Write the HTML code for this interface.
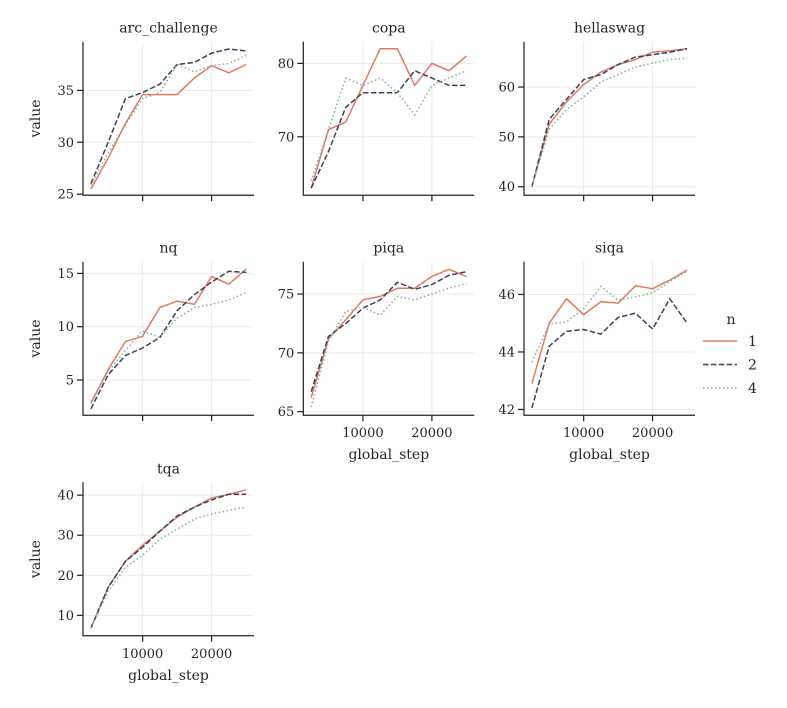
<!DOCTYPE html>
<html><head><meta charset="utf-8"><style>
body{margin:0;background:#fff}
svg text{font-family:"DejaVu Serif","Liberation Serif",serif;fill:#262626}
</style></head><body>
<svg id="c" width="787" height="703" viewBox="0 0 787 703" xmlns="http://www.w3.org/2000/svg"></svg>
<script>
const steps=[2500,5000,7500,10000,12500,15000,17500,20000,22500,25000];
const seriesNames=["1","2","4"];
const arcN1=[25.5,28.5,31.8,34.6,34.6,34.6,36.2,37.4,36.7,37.5];
const arcN2=[26,30,34.2,34.8,35.6,37.5,37.7,38.6,39.0,38.8];
const arcN4=[25.9,29,31.7,34.2,34.8,37.5,36.8,37.4,37.6,38.4];
const copaN1=[63,71,72,77,82,82,77,80,79,81];
const copaN2=[63,68,74,76,76,76,79,78,77,77];
const copaN4=[64,71,78,77,78,76,73,77,78,79];
const hellaN1=[40,52.5,57,60.5,63,64.5,65.5,67,67.3,67.7];
const hellaN2=[40,53.5,57.5,61.5,62.5,64.5,66,66.5,67,67.7];
const hellaN4=[40,51.5,55.5,58,61,62.5,64,64.8,65.5,65.8];
const nqN1=[2.8,6,8.6,9.1,11.8,12.4,12.1,14.7,14.0,15.4];
const nqN2=[2.3,5.5,7.3,8.0,9.0,11.5,13.0,14.2,15.2,15.1];
const nqN4=[3.0,5.8,7.8,9.6,9.0,10.8,11.8,12.1,12.5,13.2];
const piqaN1=[66.2,71.2,72.8,74.5,74.8,75.5,75.5,76.5,77.1,76.5];
const piqaN2=[66.7,71.4,72.5,73.8,74.5,76.0,75.4,75.8,76.6,76.9];
const piqaN4=[65.4,71.0,73.5,73.9,73.2,74.8,74.5,75.0,75.5,75.9];
const siqaN1=[42.9,45.0,45.85,45.3,45.75,45.7,46.3,46.2,46.5,46.85];
const siqaN2=[42.05,44.2,44.72,44.78,44.62,45.2,45.35,44.8,45.85,45.0];
const siqaN4=[43.65,44.97,45.05,45.5,46.28,45.8,45.92,46.05,46.45,46.8];
const tqaN1=[6.8,17,23.5,27.5,31,34.5,37,39.3,40.2,41.3];
const tqaN2=[6.8,17,23.5,27,31,34.8,37,38.8,40.2,40.2];
const tqaN4=[6.8,16,22,25,29,31.5,34,35.3,36.2,37];
const xTicks=[10000,20000];
const xTickLabels=["10000","20000"];
const arcTicks=[25,30,35], copaTicks=[70,80], hellaTicks=[40,50,60], nqTicks=[5,10,15], piqaTicks=[65,70,75], siqaTicks=[42,44,46], tqaTicks=[10,20,30,40];

const panels=[
 {name:"arc_challenge",col:0,row:0,y:[24.9,39.7],ticks:arcTicks,s:[arcN1,arcN2,arcN4],xl:false,yl:true},
 {name:"copa",col:1,row:0,y:[62.05,82.95],ticks:copaTicks,s:[copaN1,copaN2,copaN4],xl:false,yl:false},
 {name:"hellaswag",col:2,row:0,y:[38.3,69.1],ticks:hellaTicks,s:[hellaN1,hellaN2,hellaN4],xl:false,yl:false},
 {name:"nq",col:0,row:1,y:[1.7,16.1],ticks:nqTicks,s:[nqN1,nqN2,nqN4],xl:false,yl:true},
 {name:"piqa",col:1,row:1,y:[64.7,77.75],ticks:piqaTicks,s:[piqaN1,piqaN2,piqaN4],xl:true,yl:false},
 {name:"siqa",col:2,row:1,y:[41.8,47.14],ticks:siqaTicks,s:[siqaN1,siqaN2,siqaN4],xl:true,yl:false},
 {name:"tqa",col:0,row:2,y:[4.9,43.2],ticks:tqaTicks,s:[tqaN1,tqaN2,tqaN4],xl:true,yl:true}
];
const colors=["#e07a5f","#3d405b","#81b29a"];
const dashes=["","5.5,2.4","1.5,2.5"];
const colX=[83,303.3,524], W=171, rowY=[41.7,261.7,482.3], H=153.5;
const X0=1350,X1=26150;
const svg=document.getElementById('c');
const NS="http://www.w3.org/2000/svg";
function mk(t,a,p){const e=document.createElementNS(NS,t);for(const k in a)e.setAttribute(k,a[k]);(p||svg).appendChild(e);return e;}
panels.forEach(p=>{
 const l=colX[p.col],t=rowY[p.row];
 const g=mk('g',{});
 
 
 const xs=v=>l+(v-X0)/(X1-X0)*W;
 const ys=v=>t+H-(v-p.y[0])/(p.y[1]-p.y[0])*H;
 xTicks.forEach((v,i)=>{
  const gl=mk('line',{x1:xs(v),x2:xs(v),y1:t,y2:t+H,stroke:'#ebebeb','stroke-width':1},g);
  
 });
 p.ticks.forEach(v=>{
  const gl=mk('line',{x1:l,x2:l+W,y1:ys(v),y2:ys(v),stroke:'#ebebeb','stroke-width':1},g);
  
 });
 p.s.forEach((arr,si)=>{
  const d=arr.map((v,i)=>(i?'L':'M')+xs(steps[i]).toFixed(1)+','+ys(v).toFixed(1)).join('');
  const a={d:d,fill:'none',stroke:colors[si],'stroke-width':1.5};
  if(dashes[si])a['stroke-dasharray']=dashes[si];
  const pe=mk('path',a,g);
  
  
 });
 const sp=mk('path',{d:`M${l},${t}V${t+H}H${l+W}`,fill:'none',stroke:'#262626','stroke-width':1.25},g);
 
 xTicks.forEach((v,i)=>{
  mk('line',{x1:xs(v),x2:xs(v),y1:t+H,y2:t+H+6,stroke:'#262626','stroke-width':1.25},g);
  if(p.xl){const tx=mk('text',{x:xs(v),y:t+H+22,'font-size':13,'text-anchor':'middle'},g);tx.textContent=xTickLabels[i];
   }
 });
 p.ticks.forEach(v=>{
  mk('line',{x1:l-6,x2:l,y1:ys(v),y2:ys(v),stroke:'#262626','stroke-width':1.25},g);
  const tx=mk('text',{x:l-9,y:ys(v)+4.5,'font-size':13,'text-anchor':'end'},g);tx.textContent=v;
  
 });
 const ti=mk('text',{x:l+W/2,y:t-9,'font-size':14,'text-anchor':'middle'},g);ti.textContent=p.name;
 
 if(p.xl){const xl=mk('text',{x:l+W/2,y:t+H+44,'font-size':14,'text-anchor':'middle'},g);xl.textContent='global_step';
  }
 if(p.yl){const cy=t+H/2;const yl=mk('text',{x:40,y:cy,'font-size':14,'text-anchor':'middle',transform:`rotate(-90 40 ${cy})`},g);yl.textContent='value';
  }
});
const lg=mk('g',{});

const lt=mk('text',{x:731,y:324,'font-size':14,'text-anchor':'middle'},lg);lt.textContent='n';
seriesNames.forEach((n,i)=>{
 const y=341+i*23.5;
 const a={x1:703,x2:737,y1:y,y2:y,stroke:colors[i],'stroke-width':1.5};
 if(dashes[i])a['stroke-dasharray']=dashes[i];
 const ln=mk('line',a,lg);
 
 const tx=mk('text',{x:748,y:y+5,'font-size':14},lg);tx.textContent=n;
 
});
</script>
</body></html>
